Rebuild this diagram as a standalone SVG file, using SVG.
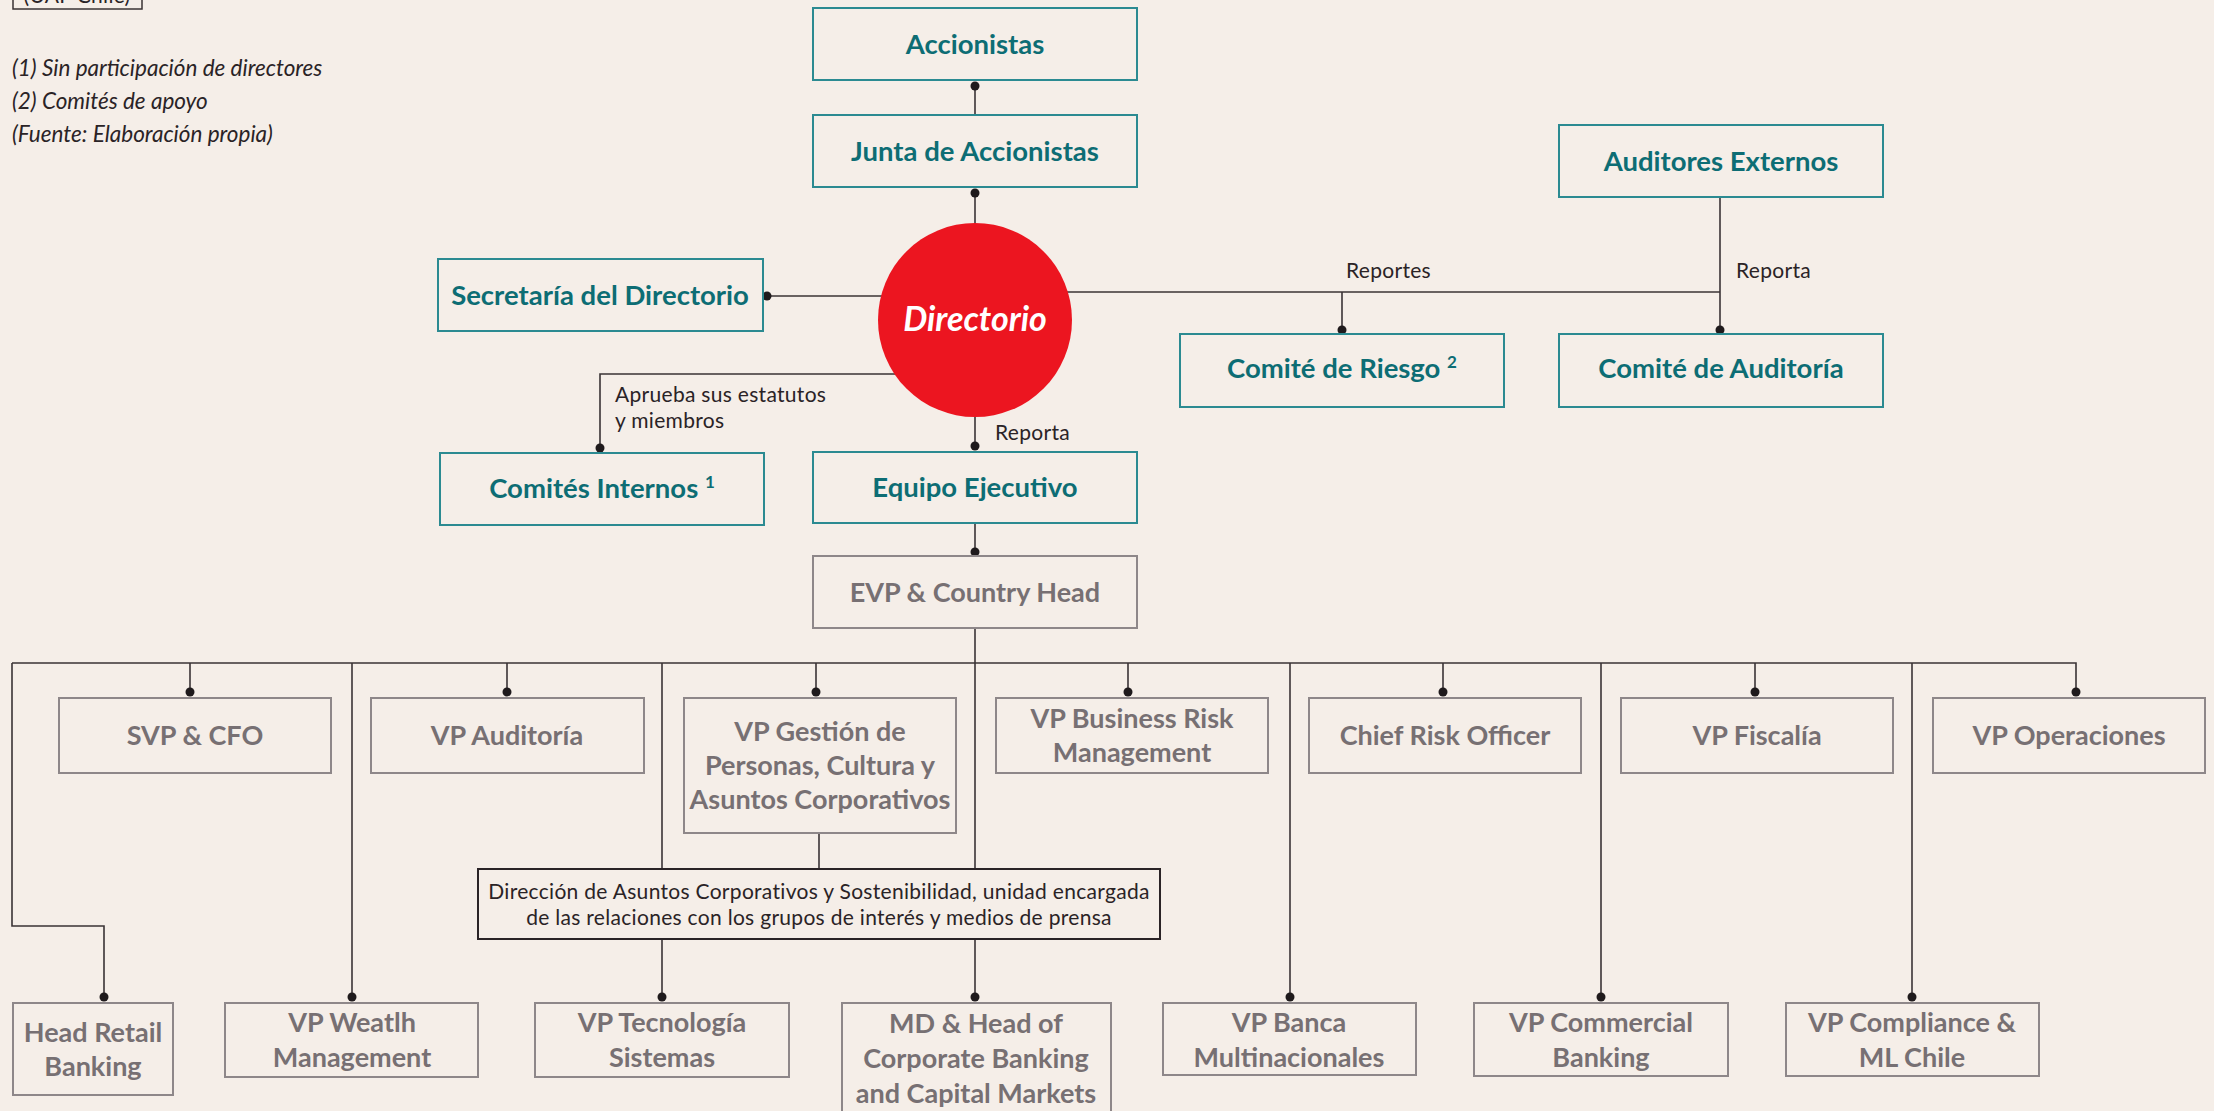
<svg xmlns="http://www.w3.org/2000/svg" width="2214" height="1111" viewBox="0 0 2214 1111">
<style>
.bg{fill:#f5eee8}
.tbox{fill:#f5eee8;stroke:#2b8a91;stroke-width:2}
.gbox{fill:#f5eee8;stroke:#8e8789;stroke-width:2}
.kbox{fill:#f5eee8;stroke:#2a2326;stroke-width:2}
.tt{font-family:Lato,"Liberation Sans",sans-serif;font-weight:700;font-size:27.5px;fill:#0d6d74;text-anchor:middle}
.gt{font-family:Lato,"Liberation Sans",sans-serif;font-weight:700;font-size:27px;fill:#777073;text-anchor:middle}
.lb{font-family:Lato,"Liberation Sans",sans-serif;font-size:21px;letter-spacing:0.3px;fill:#2a2326}
.note{font-family:Lato,"Liberation Sans",sans-serif;font-style:italic;font-size:22.5px;fill:#2a2326}
.sup{font-size:17px}
.ln{fill:none;stroke:#3a3335;stroke-width:1.6}
.dot{fill:#1f1a1c}
</style>
<rect class="bg" x="0" y="0" width="2214" height="1111"/>

<g id="notes">
<rect x="13" y="-40" width="129" height="49" fill="none" stroke="#3a3335" stroke-width="1.5"/>
<text class="lb" x="77" y="3" text-anchor="middle" font-size="23px">(UAF Chile)</text>
<text class="note" x="12" y="76">(1) Sin participación de directores</text>
<text class="note" x="12" y="109">(2) Comités de apoyo</text>
<text class="note" x="12" y="142">(Fuente: Elaboración propia)</text>
</g>

<g id="connectors">
<path class="ln" d="M975 86V115"/>
<path class="ln" d="M975 193V320"/>
<path class="ln" d="M767 296H975"/>
<path class="ln" d="M975 292H1720"/>
<path class="ln" d="M1720 197V330"/>
<path class="ln" d="M1342 292V330"/>
<path class="ln" d="M975 374H600V448"/>
<path class="ln" d="M975 320V446"/>
<path class="ln" d="M975 523V552"/>
<path class="ln" d="M975 628V869"/>
<path class="ln" d="M12 663H2076V692"/>
<path class="ln" d="M12 663V926H104V997"/>
<path class="ln" d="M352 663V997"/>
<path class="ln" d="M662 663V869"/>
<path class="ln" d="M819 833V869"/>
<path class="ln" d="M662 939V997"/>
<path class="ln" d="M975 939V997"/>
<path class="ln" d="M1290 663V997"/>
<path class="ln" d="M1601 663V997"/>
<path class="ln" d="M1912 663V997"/>
<path class="ln" d="M190 663V692"/>
<path class="ln" d="M507 663V692"/>
<path class="ln" d="M816 663V692"/>
<path class="ln" d="M1128 663V692"/>
<path class="ln" d="M1443 663V692"/>
<path class="ln" d="M1755 663V692"/>
<g class="dot">
<circle cx="975" cy="86" r="4.5"/>
<circle cx="975" cy="193" r="4.5"/>
<circle cx="767" cy="296" r="4.5"/>
<circle cx="1342" cy="330" r="4.5"/>
<circle cx="1720" cy="330" r="4.5"/>
<circle cx="600" cy="448" r="4.5"/>
<circle cx="975" cy="446" r="4.5"/>
<circle cx="975" cy="552" r="4.5"/>
<circle cx="190" cy="692" r="4.5"/>
<circle cx="507" cy="692" r="4.5"/>
<circle cx="816" cy="692" r="4.5"/>
<circle cx="1128" cy="692" r="4.5"/>
<circle cx="1443" cy="692" r="4.5"/>
<circle cx="1755" cy="692" r="4.5"/>
<circle cx="2076" cy="692" r="4.5"/>
<circle cx="104" cy="997" r="4.5"/>
<circle cx="352" cy="997" r="4.5"/>
<circle cx="662" cy="997" r="4.5"/>
<circle cx="975" cy="997" r="4.5"/>
<circle cx="1290" cy="997" r="4.5"/>
<circle cx="1601" cy="997" r="4.5"/>
<circle cx="1912" cy="997" r="4.5"/>
</g>
<text class="lb" x="1346" y="278">Reportes</text>
<text class="lb" x="1736" y="278">Reporta</text>
<text class="lb" x="615" y="402" letter-spacing="0.8px">Aprueba sus estatutos</text>
<text class="lb" x="615" y="428">y miembros</text>
<text class="lb" x="995" y="440">Reporta</text>
</g>

<g id="accionistas"><rect class="tbox" x="813" y="8" width="324" height="72"/><text class="tt" x="975" y="54">Accionistas</text></g>
<g id="junta"><rect class="tbox" x="813" y="115" width="324" height="72"/><text class="tt" x="975" y="161">Junta de Accionistas</text></g>
<g id="directorio"><circle cx="975" cy="320" r="97" fill="#ec1520"/><text x="975" y="331" text-anchor="middle" font-family="Lato,'Liberation Sans',sans-serif" font-weight="700" font-style="italic" font-size="34" fill="#ffffff">Directorio</text></g>
<g id="secretaria"><rect class="tbox" x="438" y="259" width="325" height="72"/><text class="tt" x="600" y="305">Secretaría del Directorio</text></g>
<g id="auditores"><rect class="tbox" x="1559" y="125" width="324" height="72"/><text class="tt" x="1721" y="171">Auditores Externos</text></g>
<g id="riesgo"><rect class="tbox" x="1180" y="334" width="324" height="73"/><text class="tt" x="1342" y="378">Comité de Riesgo <tspan class="sup" dy="-10">2</tspan></text></g>
<g id="auditoria"><rect class="tbox" x="1559" y="334" width="324" height="73"/><text class="tt" x="1721" y="378">Comité de Auditoría</text></g>
<g id="internos"><rect class="tbox" x="440" y="453" width="324" height="72"/><text class="tt" x="602" y="498">Comités Internos <tspan class="sup" dy="-10">1</tspan></text></g>
<g id="equipo"><rect class="tbox" x="813" y="452" width="324" height="71"/><text class="tt" x="975" y="497">Equipo Ejecutivo</text></g>

<g id="evp"><rect class="gbox" x="813" y="556" width="324" height="72"/><text class="gt" x="975" y="602">EVP &amp; Country Head</text></g>

<g id="svp"><rect class="gbox" x="59" y="698" width="272" height="75"/><text class="gt" x="195" y="745">SVP &amp; CFO</text></g>
<g id="vpauditoria"><rect class="gbox" x="371" y="698" width="273" height="75"/><text class="gt" x="507" y="745">VP Auditoría</text></g>
<g id="vpgestion"><rect class="gbox" x="684" y="698" width="272" height="135"/><text class="gt" x="820" y="741">VP Gestión de</text><text class="gt" x="820" y="775">Personas, Cultura y</text><text class="gt" x="820" y="809">Asuntos Corporativos</text></g>
<g id="vpbusiness"><rect class="gbox" x="996" y="698" width="272" height="75"/><text class="gt" x="1132" y="728">VP Business Risk</text><text class="gt" x="1132" y="762">Management</text></g>
<g id="cro"><rect class="gbox" x="1309" y="698" width="272" height="75"/><text class="gt" x="1445" y="745">Chief Risk Officer</text></g>
<g id="fiscalia"><rect class="gbox" x="1621" y="698" width="272" height="75"/><text class="gt" x="1757" y="745">VP Fiscalía</text></g>
<g id="operaciones"><rect class="gbox" x="1933" y="698" width="272" height="75"/><text class="gt" x="2069" y="745">VP Operaciones</text></g>

<g id="direccion"><rect class="kbox" x="478" y="869" width="682" height="70"/><text class="lb" x="819" y="899" text-anchor="middle">Dirección de Asuntos Corporativos y Sostenibilidad, unidad encargada</text><text class="lb" x="819" y="925" text-anchor="middle">de las relaciones con los grupos de interés y medios de prensa</text></g>

<g id="retail"><rect class="gbox" x="13" y="1003" width="160" height="92"/><text class="gt" x="93" y="1042">Head Retail</text><text class="gt" x="93" y="1076">Banking</text></g>
<g id="wealth"><rect class="gbox" x="225" y="1003" width="253" height="74"/><text class="gt" x="352" y="1032">VP Weatlh</text><text class="gt" x="352" y="1067">Management</text></g>
<g id="tecnologia"><rect class="gbox" x="535" y="1003" width="254" height="74"/><text class="gt" x="662" y="1032">VP Tecnología</text><text class="gt" x="662" y="1067">Sistemas</text></g>
<g id="corporate"><rect class="gbox" x="842" y="1003" width="269" height="120"/><text class="gt" x="976" y="1033">MD &amp; Head of</text><text class="gt" x="976" y="1068">Corporate Banking</text><text class="gt" x="976" y="1103">and Capital Markets</text></g>
<g id="banca"><rect class="gbox" x="1163" y="1003" width="253" height="72"/><text class="gt" x="1289" y="1032">VP Banca</text><text class="gt" x="1289" y="1067">Multinacionales</text></g>
<g id="commercial"><rect class="gbox" x="1474" y="1003" width="254" height="73"/><text class="gt" x="1601" y="1032">VP Commercial</text><text class="gt" x="1601" y="1067">Banking</text></g>
<g id="compliance"><rect class="gbox" x="1786" y="1003" width="253" height="73"/><text class="gt" x="1912" y="1032">VP Compliance &amp;</text><text class="gt" x="1912" y="1067">ML Chile</text></g>
</svg>
